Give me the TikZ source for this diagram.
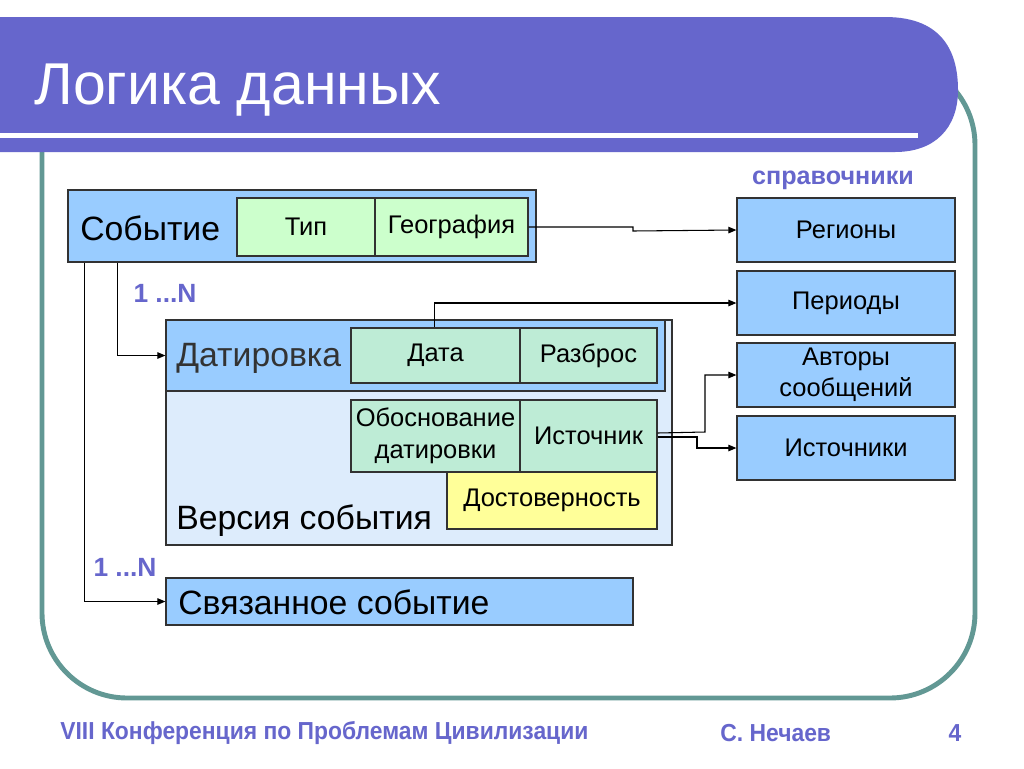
\documentclass[tikz,border=0pt]{standalone}
\usepackage{fontspec}
\setmainfont{Liberation Sans}
\newfontfamily\narrowfont[FakeStretch=0.93]{Liberation Sans}
\usetikzlibrary{arrows.meta}
\definecolor{ttl}{RGB}{102,102,204}
\definecolor{frm}{RGB}{98,152,148}
\definecolor{bblue}{RGB}{153,204,255}
\definecolor{lgreen}{RGB}{204,255,204}
\definecolor{mint}{RGB}{190,236,214}
\definecolor{yel}{RGB}{255,255,153}
\definecolor{ver}{RGB}{221,236,252}
\definecolor{brd}{RGB}{50,50,50}
\tikzset{
  bx/.style={draw=brd, line width=0.7pt, inner sep=0pt},
  conn/.style={draw=black, line width=0.6pt},
  arr/.style={conn, -{Triangle[length=0.16cm,width=0.13cm]}},
  big/.style={font=\fontsize{19.2}{22}\selectfont, text=black, inner sep=0pt},
  mid/.style={font=\fontsize{14.5}{17.5}\selectfont, text=black, inner sep=0pt, align=center},
  lbl/.style={font=\bfseries\fontsize{15}{17}\selectfont, text=ttl, inner sep=0pt},
  foot/.style={inner sep=0pt, text=ttl, font=\narrowfont\bfseries\fontsize{14}{16}\selectfont},
}
\newcommand\bxnode[7]{\node[bx,#6, minimum width={(#4-#2)*0.02cm}, minimum height={(#5-#3)*0.02cm}] (#1) at ({(#2+#4)/2},{(#3+#5)/2}) {#7};}
\begin{document}
\begin{tikzpicture}[x=0.02cm,y=-0.02cm]
\useasboundingbox (0,0) rectangle (1024,768);
\fill[white] (0,0) rectangle (1024,768);
% frame
\draw[frm, line width=2.8pt, rounded corners=1.7cm] (42,60) rectangle (975,698);
% title bar
\fill[ttl] (0,17) -- (885,17) .. controls (945,17) and (958,55) .. (958,90)
  .. controls (958,128) and (935,152) .. (895,152) -- (0,152) -- cycle;
\fill[white] (0,133) rectangle (918,138);
\node[anchor=base west, inner sep=0pt, text=white, font=\fontsize{33.6}{36}\selectfont] (title) at (34,104) {Логика данных};
% справочники
\node[lbl, font=\bfseries\fontsize{14.3}{16}\selectfont] (spr) at (833,180) {справочники};
\bxnode{reg}{737}{198}{955}{262}{fill=bblue, mid}{Регионы}
\bxnode{per}{737}{271}{955}{335}{fill=bblue, mid}{Периоды}
\bxnode{avt}{737}{343}{955}{407}{fill=bblue, mid}{Авторы\\сообщений}
\bxnode{ist}{737}{416}{955}{480}{fill=bblue, mid}{Источники}
% Событие
\bxnode{sob}{68}{190}{536}{262}{fill=bblue}{}
\node[big, anchor=west] (sobt) at (80,228) {Событие};
\bxnode{tip}{237}{198}{375}{256}{fill=lgreen, mid}{Тип}
\bxnode{geo}{375}{198}{528}{256}{fill=lgreen, mid}{География}
% Версия события
\bxnode{vers}{166}{320}{672}{545}{fill=ver}{}
\bxnode{datb}{166}{320}{665}{391}{fill=bblue}{}
\node[big, anchor=west, text=black!80] (datt) at (176,358) {Датировка};
\bxnode{data}{351}{328}{520}{383}{fill=mint, mid}{Дата}
\bxnode{razb}{520}{328}{657}{383}{fill=mint, mid}{Разброс}
\bxnode{obos}{351}{400}{520}{472}{fill=mint, mid, font=\fontsize{14.5}{18.5}\selectfont}{Обоснование\\датировки}
\bxnode{isto}{520}{400}{657}{472}{fill=mint, mid}{Источник}
\bxnode{dost}{447}{472}{657}{529}{fill=yel, mid}{Достоверность}
\node[big, anchor=west] (verst) at (176,521) {Версия события};
% Связанное событие
\bxnode{svz}{166}{578}{633}{625}{fill=bblue}{}
\node[big, anchor=west] (svzt) at (178,602) {Связанное событие};
% labels
\node[lbl] (n1) at (165,293) {1 ...N};
\node[lbl] (n2) at (125,567) {1 ...N};
% connectors
\draw[arr] ([xshift=1cm]sob.south west) |- (datb.west);
\draw[arr] ([xshift=0.34cm]sob.south west) |- (svz.west);
\draw[arr] (geo.east) -- (633,227) -- (633,231) -- (reg.west);
\draw[arr] ([xshift=-0.02cm]data.north) |- (per.west);
\draw[arr] ([yshift=0.06cm]isto.east) -- (705,432) |- (avt.west);
\draw[arr] ([yshift=-0.02cm]isto.east) -- (697,437) |- (ist.west);
% footer
\node[foot, anchor=west] (f1) at (60,733) {VIII Конференция по Проблемам Цивилизации};
\node[foot, anchor=west] (f2) at (720,733) {С. Нечаев};
\node[foot] (f3) at (955,733) {4};
\end{tikzpicture}
\end{document}
